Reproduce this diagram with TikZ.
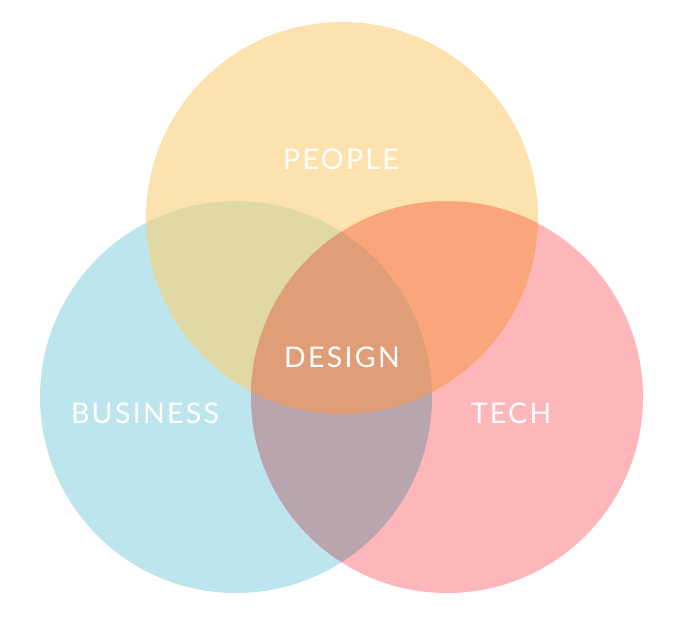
\documentclass[tikz,border=0pt]{standalone}
\usepackage{fontspec}
\setmainfont{Lato}[LetterSpace=8]
\definecolor{peopleC}{HTML}{FBE2AE}
\definecolor{busC}{HTML}{BCE5EE}
\definecolor{techC}{HTML}{FDB7BA}
\definecolor{pbC}{HTML}{E0D9A5}
\definecolor{ptC}{HTML}{F9A67C}
\definecolor{btC}{HTML}{B9A5AE}
\definecolor{allC}{HTML}{DF9E77}
\begin{document}
\begin{tikzpicture}[x=1pt,y=-1pt,
  lbl/.style={text=white, font=\fontsize{28.5}{31}\selectfont, inner sep=0pt}]
\useasboundingbox (0,0) rectangle (684,638);
\coordinate (cb) at (236,397);
\coordinate (ct) at (447,397);
\coordinate (cp) at (342,218);
\def\R{196pt}
\fill[busC] (cb) circle (\R);
\fill[techC] (ct) circle (\R);
\fill[peopleC] (cp) circle (\R);
\begin{scope}
  \clip (cb) circle (\R);
  \fill[pbC] (cp) circle (\R);
  \fill[btC] (ct) circle (\R);
\end{scope}
\begin{scope}
  \clip (ct) circle (\R);
  \fill[ptC] (cp) circle (\R);
\end{scope}
\begin{scope}
  \clip (cb) circle (\R);
  \clip (ct) circle (\R);
  \fill[allC] (cp) circle (\R);
\end{scope}
\node[lbl] (people) at (341,159) {PEOPLE};
\node[lbl] (design) at (342,357) {DESIGN};
\node[lbl] (business) at (145,413) {BUSINESS};
\node[lbl] (tech) at (511,413) {TECH};
\end{tikzpicture}
\end{document}
